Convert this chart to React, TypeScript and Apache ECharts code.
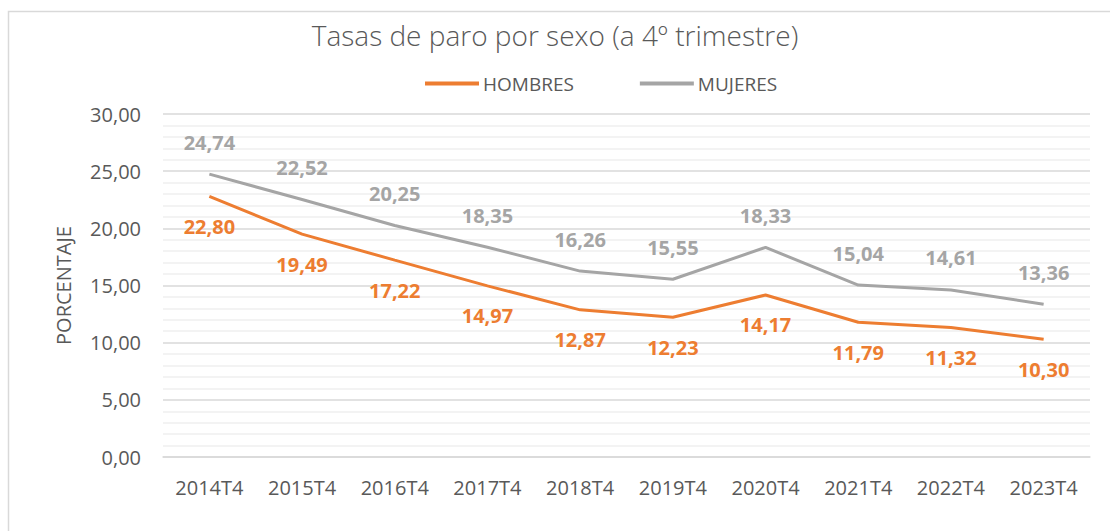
import React, { useEffect, useRef } from "react";
import * as echarts from "echarts";

const categories = ["2014T4", "2015T4", "2016T4", "2017T4", "2018T4", "2019T4", "2020T4", "2021T4", "2022T4", "2023T4"];
const hombres = [22.8, 19.49, 17.22, 14.97, 12.87, 12.23, 14.17, 11.79, 11.32, 10.3];
const mujeres = [24.74, 22.52, 20.25, 18.35, 16.26, 15.55, 18.33, 15.04, 14.61, 13.36];
const titleText = "Tasas de paro por sexo (a 4º trimestre)";
const yAxisName = "PORCENTAJE";

const fmt = (v: number) => v.toFixed(2).replace(".", ",");
const FONT = "'Open Sans', 'Noto Sans', sans-serif";

export default function App() {
  const ref = useRef<HTMLDivElement>(null);
  useEffect(() => {
    if (!ref.current) return;
    const chart = echarts.init(ref.current, undefined, { renderer: "svg" });
    chart.setOption({
      animation: false,
      backgroundColor: "#ffffff",
      textStyle: { fontFamily: FONT },
      graphic: [
        {
          type: "rect",
          shape: { x: 8.5, y: 11.5, width: 1200, height: 600 },
          style: { fill: "none", stroke: "#d9d9d9", lineWidth: 1.5 },
          silent: true,
          z: -10,
        },
      ],
      title: {
        text: titleText,
        left: "center",
        top: 16,
        textStyle: { fontFamily: FONT, fontWeight: 300, fontSize: 28, color: "#595959" },
      },
      legend: {
        top: 69,
        left: 420,
        itemWidth: 54,
        itemHeight: 4,
        itemGap: 66,
        icon: "rect",
        textStyle: { fontFamily: FONT, fontSize: 19, color: "#595959", padding: [0, 0, 0, -1] },
        data: ["HOMBRES", "MUJERES"],
      },
      grid: { left: 163, right: 20, top: 114, bottom: 74 },
      xAxis: {
        type: "category",
        data: categories,
        boundaryGap: true,
        axisLine: { show: true, lineStyle: { color: "#d9d9d9", width: 1.5 } },
        axisTick: { show: false },
        axisLabel: { fontFamily: FONT, fontSize: 20, color: "#595959", margin: 20 },
      },
      yAxis: {
        type: "value",
        min: 0,
        max: 30,
        interval: 5,
        name: yAxisName,
        nameLocation: "middle",
        nameGap: 90,
        nameTextStyle: { fontFamily: FONT, fontSize: 20, color: "#595959" },
        axisLine: { show: false },
        axisTick: { show: false },
        axisLabel: { fontFamily: FONT, fontSize: 20, color: "#595959", margin: 22, formatter: (v: number) => fmt(v) },
        splitLine: { show: true, lineStyle: { color: "#d9d9d9", width: 1.5 } },
        minorTick: { show: false, splitNumber: 5 },
        minorSplitLine: { show: true, lineStyle: { color: "#efefef", width: 1.5 } },
      },
      series: [
        {
          name: "HOMBRES",
          type: "line",
          data: hombres,
          symbol: "circle",
          symbolSize: 0,
          showSymbol: true,
          lineStyle: { color: "#ED7D31", width: 3 },
          itemStyle: { color: "#ED7D31" },
          label: {
            show: true,
            position: "bottom",
            distance: 20,
            formatter: (p: any) => fmt(p.value),
            fontFamily: FONT,
            fontWeight: "bold",
            fontSize: 20,
            color: "#ED7D31",
          },
          labelLayout: { hideOverlap: false },
        },
        {
          name: "MUJERES",
          type: "line",
          data: mujeres,
          symbol: "circle",
          symbolSize: 0,
          showSymbol: true,
          lineStyle: { color: "#A5A5A5", width: 3 },
          itemStyle: { color: "#A5A5A5" },
          label: {
            show: true,
            position: "top",
            distance: 22,
            formatter: (p: any) => fmt(p.value),
            fontFamily: FONT,
            fontWeight: "bold",
            fontSize: 20,
            color: "#A5A5A5",
          },
          labelLayout: { hideOverlap: false },
        },
      ],
    });
    return () => chart.dispose();
  }, []);
  return <div ref={ref} style={{ position: "fixed", left: 0, top: 0, width: 1110, height: 531 }} />;
}
